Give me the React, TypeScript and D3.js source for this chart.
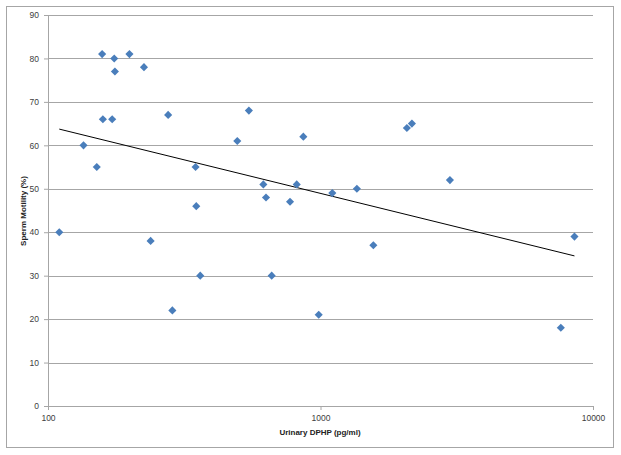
import React, { useEffect, useRef } from "react";
import * as d3 from "d3";

// urinary DPHP (pg/ml) vs sperm motility (%)
const dphp = [
  110, 135, 151, 158, 159, 172, 175, 176, 199, 225, 238, 276, 286, 348, 350,
  362, 495, 546, 617, 631, 662, 773, 818, 865, 985, 1105, 1360, 1563, 2075,
  2165, 2985, 7620, 8550,
];
const motility = [
  40, 60, 55, 81, 66, 66, 80, 77, 81, 78, 38, 67, 22, 55, 46, 30, 61, 68, 51,
  48, 30, 47, 51, 62, 21, 49, 50, 37, 64, 65, 52, 18, 39,
];
const xTicks = [100, 1000, 10000];
const yTicks = [0, 10, 20, 30, 40, 50, 60, 70, 80, 90];

const App = () => {
  const ref = useRef<SVGSVGElement>(null);

  useEffect(() => {
    const svg = d3.select(ref.current);
    svg.selectAll("*").remove();

    const width = 621,
      height = 455;
    const margin = { top: 15, right: 28, bottom: 49, left: 48 };
    const w = 593 - margin.left,
      h = 406 - margin.top;
    const font = "Liberation Sans, Arial, sans-serif";

    // chart frame
    svg
      .append("rect")
      .attr("x", 6.5)
      .attr("y", 6.5)
      .attr("width", 607)
      .attr("height", 441)
      .attr("fill", "#fff")
      .attr("stroke", "#a6a6a6");

    const g = svg
      .append("g")
      .attr("transform", "translate(" + margin.left + "," + margin.top + ")");

    const x = d3.scaleLog().domain([100, 10000]).range([0, w]);
    const y = d3.scaleLinear().domain([0, 90]).range([h, 0]);

    // gridlines
    g.selectAll(".grid")
      .data(yTicks.filter((t) => t > 0))
      .enter()
      .append("line")
      .attr("x1", 0)
      .attr("x2", w)
      .attr("y1", (d) => Math.round(y(d)) + 0.5)
      .attr("y2", (d) => Math.round(y(d)) + 0.5)
      .attr("stroke", "#a6a6a6");

    // y axis
    const yAxis = g
      .append("g")
      .call(
        d3
          .axisLeft(y)
          .tickValues(yTicks)
          .tickSize(4)
          .tickPadding(5)
          .tickFormat(d3.format("d"))
      );
    yAxis.select(".domain").attr("stroke", "#a6a6a6");
    yAxis.selectAll(".tick line").attr("stroke", "#a6a6a6");
    yAxis
      .selectAll("text")
      .attr("fill", "#404040")
      .style("font-family", font)
      .style("font-size", "8.5px");

    // x axis
    const xAxis = g
      .append("g")
      .attr("transform", "translate(0," + h + ")")
      .call(
        d3
          .axisBottom(x)
          .tickValues(xTicks)
          .tickSize(4)
          .tickPadding(5)
          .tickFormat(d3.format("d"))
      );
    xAxis.select(".domain").attr("stroke", "#a6a6a6");
    xAxis.selectAll(".tick line").attr("stroke", "#a6a6a6");
    xAxis
      .selectAll("text")
      .attr("fill", "#404040")
      .style("font-family", font)
      .style("font-size", "8.5px");

    // logarithmic trendline (least squares on log10 x)
    const lx = dphp.map((d) => Math.log10(d));
    const mx = d3.mean(lx) as number,
      my = d3.mean(motility) as number;
    let sxy = 0,
      sxx = 0;
    lx.forEach((v, i) => {
      sxy += (v - mx) * (motility[i] - my);
      sxx += (v - mx) * (v - mx);
    });
    const slope = sxy / sxx,
      icpt = my - slope * mx;
    const ext = d3.extent(dphp) as [number, number];
    const trend = ext.map((d) => [d, icpt + slope * Math.log10(d)]);
    g.append("path")
      .attr(
        "d",
        d3
          .line<number[]>()
          .x((d) => x(d[0]))
          .y((d) => y(d[1]))(trend)
      )
      .attr("fill", "none")
      .attr("stroke", "#000")
      .attr("stroke-width", 1);

    // points
    const diamond = d3.symbol().type(d3.symbolDiamond2).size(42);
    g.selectAll(".pt")
      .data(dphp)
      .enter()
      .append("path")
      .attr("d", diamond)
      .attr(
        "transform",
        (d, i) => "translate(" + x(d) + "," + y(motility[i]) + ")"
      )
      .attr("fill", "#4a7ebb");

    // axis titles
    svg
      .append("text")
      .attr("x", 320)
      .attr("y", 435)
      .attr("text-anchor", "middle")
      .style("font-family", font)
      .style("font-size", "8px")
      .style("font-weight", "bold")
      .attr("fill", "#222")
      .text("Urinary DPHP (pg/ml)");

    svg
      .append("text")
      .attr("transform", "translate(26,211) rotate(-90)")
      .attr("text-anchor", "middle")
      .style("font-family", font)
      .style("font-size", "8px")
      .style("font-weight", "bold")
      .attr("fill", "#222")
      .text("Sperm Motility (%)");

    svg.attr("width", width).attr("height", height);
  }, []);

  return (
    <svg
      ref={ref}
      width={621}
      height={455}
      style={{ position: "absolute", left: 0, top: 0 }}
    />
  );
};

export default App;
